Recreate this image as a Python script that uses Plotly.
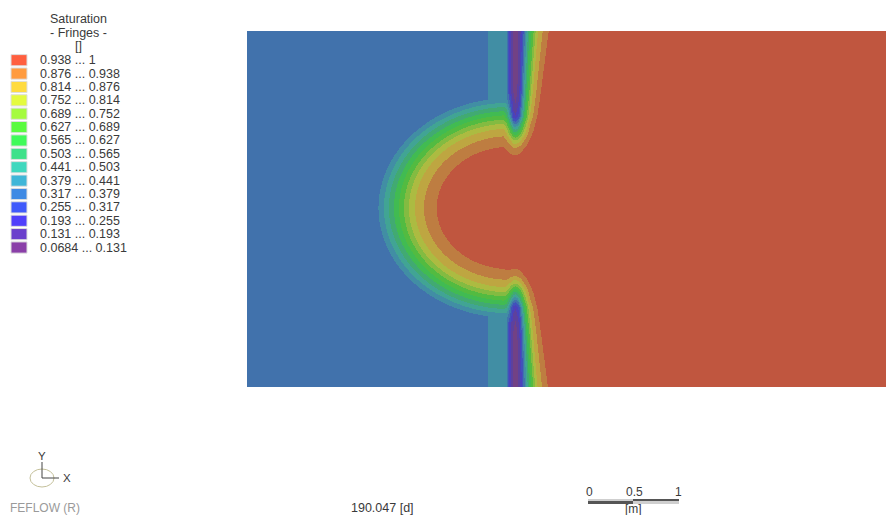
import numpy as np
import plotly.graph_objects as go

# ---- fringe classes of the saturation field -------------------------------
fringe_levels = [0.0684, 0.131, 0.193, 0.255, 0.317, 0.379, 0.441, 0.503,
                 0.565, 0.627, 0.689, 0.752, 0.814, 0.876, 0.938, 1.0]
# shaded colours as they appear on the model slice (low -> high)
fringe_colors = ["#724185", "#5D419D", "#4C41BB", "#4152BB", "#4172AC", "#418EA4",
                 "#41A494", "#41AA72", "#41BB52", "#52BB41", "#83BB41", "#ACBB41",
                 "#BEA641", "#BE7D41", "#C0563F"]
# unshaded colours used by the fringe legend (low -> high)
legend_colors = ["#8A3FA8", "#6A3FCC", "#503FFB", "#3F5AFB", "#3F8AE4", "#3FB6D8",
                 "#3FD8BE", "#3FE18A", "#3FFB5A", "#5AFB3F", "#A5FB3F", "#E4FB3F",
                 "#FFDB3F", "#FF9B3F", "#FF5F3F"]

# ---- model slice geometry [m] ---------------------------------------------
domain_width = 7.022
domain_height = 3.912
cell = 1.0 / 91.0
initial_sat = 0.35

# semi-elliptic infiltration front around the source
front_center = (2.890, 1.967)
front_rx, front_ry = 0.802, 0.670
front_dist = [0.0, 0.80, 0.945, 1.044, 1.110, 1.165, 1.220, 1.275, 1.330, 1.385, 1.445, 1.50]
front_sat = [1.0, 0.94, 0.876, 0.814, 0.752, 0.689, 0.627, 0.565, 0.503, 0.441, 0.379, 0.35]

# vertical desaturated strip ahead of the saturated block
strip_x, strip_y = 2.951, 1.923
strip_offset = [-0.440, -0.308, -0.297, -0.112, -0.096, -0.088, -0.071, -0.055, -0.027, 0.0,
                0.027, 0.055, 0.071, 0.088, 0.104, 0.121, 0.137, 0.154, 0.176, 0.198,
                0.220, 0.247, 0.297, 0.363, 0.385, 0.660]
strip_sat = [0.35, 0.35, 0.41, 0.41, 0.379, 0.317, 0.255, 0.193, 0.131, 0.10,
             0.131, 0.193, 0.255, 0.317, 0.379, 0.441, 0.503, 0.565, 0.627, 0.689,
             0.752, 0.814, 0.876, 0.938, 1.0, 1.0]
# closing of the strip towards the front (distance from strip centre line)
tip_dist = [0.0, 0.53, 0.60, 0.70, 0.78, 0.87, 0.96, 1.05, 1.20, 1.34]
tip_weight = [1.0, 1.0, 0.95, 0.87, 0.74, 0.53, 0.32, 0.11, 0.03, 0.0]
# narrowing of the wetted side of the strip near the front
taper_dist = [0.989, 1.978]
taper_scale = [0.65, 1.0]
# transition between front region and strip core
blend_offset = [-0.132, -0.022]
blend_weight = [0.0, 1.0]

# ---- saturation field -------------------------------------------------------
xs = (np.arange(int(round(domain_width / cell))) + 0.5) * cell
ys = (np.arange(int(round(domain_height / cell))) + 0.5) * cell
X, Y = np.meshgrid(xs, ys)

d_eq = np.sqrt((X - front_center[0]) ** 2 + ((Y - front_center[1]) * front_rx / front_ry) ** 2)
s_front = np.interp(d_eq, front_dist, front_sat, right=initial_sat)

off = X - strip_x
u = np.abs(Y - strip_y)
scale = np.interp(u, taper_dist, taper_scale)
off_eff = np.where(off > 0, off / scale, off)
p = np.interp(off_eff, strip_offset, strip_sat)
w = np.interp(off, blend_offset, blend_weight)
h = np.interp(u, tip_dist, tip_weight)

s_left = np.where(s_front > initial_sat, np.maximum(s_front, p), p)
s_strip = p + (1.0 - p) * h
sat = np.round((1.0 - w) * s_left + w * s_strip, 4)

zmin, zmax = fringe_levels[0], fringe_levels[-1]
colorscale = []
for i, c in enumerate(fringe_colors):
    lo = (fringe_levels[i] - zmin) / (zmax - zmin)
    hi = (fringe_levels[i + 1] - zmin) / (zmax - zmin)
    colorscale += [[lo, c], [hi, c]]

W, H = 886, 515


def px(x, y):
    return x / W, 1 - y / H


fig = go.Figure()
fig.add_trace(go.Heatmap(
    x=xs, y=ys, z=sat, zmin=zmin, zmax=zmax, colorscale=colorscale,
    showscale=False, hoverinfo="skip"))

shapes = []
annotations = []
font = "Liberation Sans, Arial, sans-serif"


def label(x, y, text, size=12.5, color="#3a3a3a", xanchor="center"):
    ax, ay = px(x, y)
    annotations.append(dict(x=ax, y=ay, xref="paper", yref="paper", text=text,
                            showarrow=False, xanchor=xanchor, yanchor="middle",
                            font=dict(family=font, size=size, color=color)))


# fringe legend
label(78, 19, "Saturation")
label(78, 33, "- Fringes -")
label(78, 46, "[]")
n = len(legend_colors)
for k in range(n):
    i = n - 1 - k
    cy = 60.2 + k * 13.38
    x0, y0 = px(11, cy - 5.6)
    x1, y1 = px(27, cy + 5.6)
    shapes.append(dict(type="rect", xref="paper", yref="paper", x0=x0, x1=x1, y0=y1, y1=y0,
                       fillcolor=legend_colors[i], line=dict(color="#dedede", width=1)))
    lo, hi = fringe_levels[i], fringe_levels[i + 1]
    label(38, cy, f"{lo:g} ... {hi:g}", xanchor="left")

# axis triad
ex0, ey0 = px(30, 469)
ex1, ey1 = px(54, 487)
shapes.append(dict(type="circle", xref="paper", yref="paper", x0=ex0, x1=ex1, y0=ey1, y1=ey0,
                   line=dict(color="#c4c09a", width=1)))
for (a, b) in [((42, 478), (42, 462)), ((42, 478), (59, 478))]:
    ax0, ay0 = px(*a)
    ax1, ay1 = px(*b)
    shapes.append(dict(type="line", xref="paper", yref="paper", x0=ax0, y0=ay0, x1=ax1, y1=ay1,
                       line=dict(color="#444444", width=1)))
label(42, 456, "Y", size=11.5)
label(67, 478, "X", size=11.5)

# footer
label(8, 508, "FEFLOW (R)", size=12, color="#9a9a9a", xanchor="left")
label(382, 508, "190.047 [d]", size=12.5)

# scale bar
label(589, 492, "0", size=12)
label(634, 492, "0.5", size=12)
label(678, 492, "1", size=12)
label(633, 508.5, "[m]", size=12)
for (xa, xb, ya, yb, col) in [(588, 633, 499, 501, "#cfcfcf"), (633, 679, 499, 501, "#555555"),
                              (588, 633, 501, 504, "#555555"), (633, 679, 501, 504, "#cfcfcf")]:
    bx0, by0 = px(xa, ya)
    bx1, by1 = px(xb, yb)
    shapes.append(dict(type="rect", xref="paper", yref="paper", x0=bx0, x1=bx1, y0=by1, y1=by0,
                       fillcolor=col, line=dict(width=0)))

fig.update_layout(
    width=W, height=H, margin=dict(l=0, r=0, t=0, b=0),
    paper_bgcolor="white", plot_bgcolor="white",
    xaxis=dict(domain=[247 / W, 1], range=[0, xs[-1] + cell / 2], visible=False, fixedrange=True),
    yaxis=dict(domain=[1 - 387 / H, 1 - 31 / H], range=[0, ys[-1] + cell / 2], visible=False,
               fixedrange=True),
    shapes=shapes, annotations=annotations, showlegend=False)

fig.write_html("out.html", config={"displayModeBar": False})
